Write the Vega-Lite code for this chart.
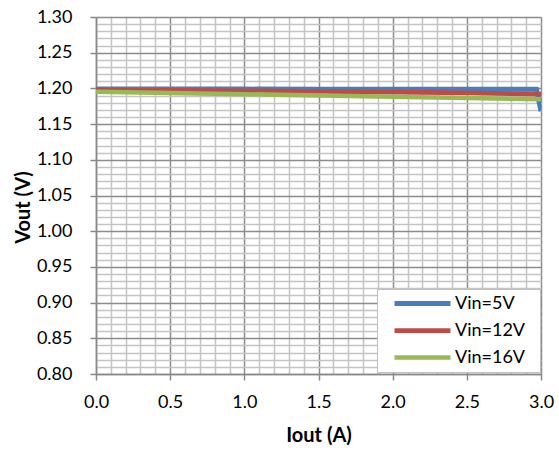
{
  "$schema": "https://vega.github.io/schema/vega-lite/v6.json",
  "autosize": "none",
  "width": 445,
  "height": 357,
  "padding": {"left": 96, "top": 17, "right": 18, "bottom": 76},
  "background": "white",
  "config": {
    "font": "Lato",
    "view": {"stroke": null},
    "axis": {
      "labelFont": "Lato",
      "labelFontSize": 18,
      "labelColor": "#000000",
      "titleFont": "Lato",
      "titleFontSize": 20,
      "titleFontWeight": "bold",
      "titleColor": "#000000",
      "domainColor": "#888888",
      "domainWidth": 1.5,
      "tickColor": "#888888",
      "tickWidth": 1.5,
      "labelOverlap": false,
      "labelBound": false,
      "labelFlush": false
    }
  },
  "data": {
    "values": [
      {"iout": 0.0, "vout": 1.1990, "series": "Vin=5V"},
      {"iout": 0.5, "vout": 1.1990, "series": "Vin=5V"},
      {"iout": 1.0, "vout": 1.1990, "series": "Vin=5V"},
      {"iout": 1.5, "vout": 1.1989, "series": "Vin=5V"},
      {"iout": 2.0, "vout": 1.1989, "series": "Vin=5V"},
      {"iout": 2.5, "vout": 1.1988, "series": "Vin=5V"},
      {"iout": 2.97, "vout": 1.1987, "series": "Vin=5V"},
      {"iout": 3.0, "vout": 1.1680, "series": "Vin=5V"},
      {"iout": 0.0, "vout": 1.1976, "series": "Vin=12V"},
      {"iout": 0.5, "vout": 1.1971, "series": "Vin=12V"},
      {"iout": 1.0, "vout": 1.1965, "series": "Vin=12V"},
      {"iout": 1.5, "vout": 1.1957, "series": "Vin=12V"},
      {"iout": 2.0, "vout": 1.1948, "series": "Vin=12V"},
      {"iout": 2.5, "vout": 1.1937, "series": "Vin=12V"},
      {"iout": 3.0, "vout": 1.1921, "series": "Vin=12V"},
      {"iout": 0.0, "vout": 1.1954, "series": "Vin=16V"},
      {"iout": 0.5, "vout": 1.1937, "series": "Vin=16V"},
      {"iout": 1.0, "vout": 1.1919, "series": "Vin=16V"},
      {"iout": 1.5, "vout": 1.1901, "series": "Vin=16V"},
      {"iout": 2.0, "vout": 1.1884, "series": "Vin=16V"},
      {"iout": 2.5, "vout": 1.1866, "series": "Vin=16V"},
      {"iout": 3.0, "vout": 1.1847, "series": "Vin=16V"}
    ]
  },
  "mark": {"type": "line", "clip": true, "strokeCap": "butt"},
  "encoding": {
    "x": {
      "field": "iout",
      "type": "quantitative",
      "title": "Iout (A)",
      "scale": {"domain": [0, 3], "nice": false, "zero": false},
      "axis": {
        "values": [0, 0.1, 0.2, 0.3, 0.4, 0.5, 0.6, 0.7, 0.8, 0.9, 1.0, 1.1, 1.2, 1.3, 1.4, 1.5, 1.6, 1.7, 1.8, 1.9, 2.0, 2.1, 2.2, 2.3, 2.4, 2.5, 2.6, 2.7, 2.8, 2.9, 3.0],
        "labelExpr": "round(datum.value*10) % 5 == 0 ? format(datum.value, '.1f') : ''",
        "grid": true,
        "gridColor": {"condition": {"test": "round(datum.value*10) % 5 != 0", "value": "#c4c4c4"}, "value": "#8c8c8c"},
        "gridWidth": 1.5,
        "tickOpacity": {"condition": {"test": "round(datum.value*10) % 5 != 0", "value": 0}, "value": 1},
        "tickSize": 6,
        "labelPadding": 13,
        "titlePadding": 14
      }
    },
    "y": {
      "field": "vout",
      "type": "quantitative",
      "title": "Vout (V)",
      "scale": {"domain": [0.8, 1.3], "nice": false, "zero": false},
      "axis": {
        "values": [0.80, 0.81, 0.82, 0.83, 0.84, 0.85, 0.86, 0.87, 0.88, 0.89, 0.90, 0.91, 0.92, 0.93, 0.94, 0.95, 0.96, 0.97, 0.98, 0.99, 1.00, 1.01, 1.02, 1.03, 1.04, 1.05, 1.06, 1.07, 1.08, 1.09, 1.10, 1.11, 1.12, 1.13, 1.14, 1.15, 1.16, 1.17, 1.18, 1.19, 1.20, 1.21, 1.22, 1.23, 1.24, 1.25, 1.26, 1.27, 1.28, 1.29, 1.30],
        "labelExpr": "round(datum.value*100) % 5 == 0 ? format(datum.value, '.2f') : ''",
        "grid": true,
        "gridColor": {"condition": {"test": "round(datum.value*100) % 5 != 0", "value": "#c4c4c4"}, "value": "#8c8c8c"},
        "gridWidth": 1.5,
        "tickOpacity": {"condition": {"test": "round(datum.value*100) % 5 != 0", "value": 0}, "value": 1},
        "tickSize": 6,
        "labelPadding": 18,
        "titleX": -73,
        "titleY": 190,
        "titleBaseline": "middle"
      }
    },
    "color": {
      "field": "series",
      "type": "nominal",
      "sort": ["Vin=5V", "Vin=12V", "Vin=16V"],
      "scale": {"domain": ["Vin=5V", "Vin=12V", "Vin=16V"], "range": ["#4a7ebb", "#be4b48", "#98b954"]},
      "legend": {
        "title": " ",
        "titleOrient": "right",
        "titleFontSize": 4,
        "titlePadding": 10,
        "orient": "none",
        "legendX": 281,
        "legendY": 272,
        "fillColor": "white",
        "strokeColor": "#bfbfbf",
        "padding": 5,
        "symbolOffset": 10,
        "symbolType": "stroke",
        "symbolSize": 3136,
        "symbolStrokeWidth": 5,
        "clipHeight": 19,
        "labelFont": "Lato",
        "labelFontSize": 18,
        "labelColor": "#000000",
        "rowPadding": 8,
        "labelOffset": 2
      }
    },
    "strokeWidth": {
      "field": "series",
      "type": "nominal",
      "scale": {"domain": ["Vin=5V", "Vin=12V", "Vin=16V"], "range": [5, 4.5, 6]},
      "legend": null
    },
    "order": {"field": "iout"}
  }
}
